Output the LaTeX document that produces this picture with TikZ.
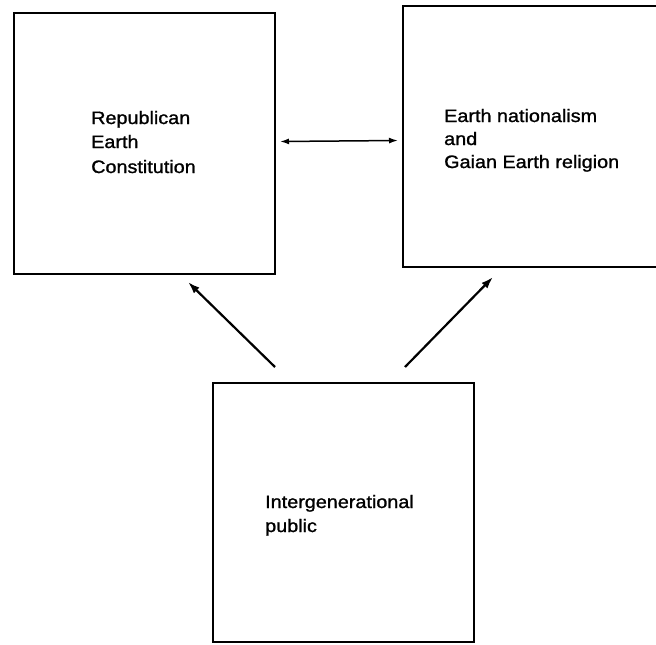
\documentclass[tikz,border=0pt]{standalone}
\usepackage{fontspec}
\setmainfont{Liberation Sans}
\usetikzlibrary{arrows.meta}
\begin{document}
\begin{tikzpicture}[x=1pt,y=-1pt,
  box/.style={draw, line width=2.6pt, inner sep=0pt},
  lbl/.style={anchor=base west, inner sep=0pt,
    font=\fontsize{18}{24}\selectfont\addfontfeature{FakeStretch=1.1,FakeBold=1.2}},
  bigarrow/.style={line width=2.2pt, -{Latex[length=12pt,width=8pt]}},
  thinarrow/.style={line width=1.5pt, {Latex[length=9pt,width=6pt]}-{Latex[length=9pt,width=6pt]}}]
\useasboundingbox (0,0) rectangle (656,645);
% boxes
\node[box, minimum width=261pt, minimum height=261pt] (L) at (144.5,143.5) {};
\node[box, minimum width=260pt, minimum height=261pt] (R) at (533,136.5) {};
\node[box, minimum width=261pt, minimum height=259pt] (B) at (343.5,512.5) {};
% texts
\node[lbl] (l1) at (91,124) {Republican};
\node[lbl] (l2) at (91,148) {Earth};
\node[lbl] (l3) at (91,173) {Constitution};
\node[lbl] (r1) at (444,122) {Earth nationalism};
\node[lbl] (r2) at (444,145) {and};
\node[lbl] (r3) at (444,168) {Gaian Earth religion};
\node[lbl] (b1) at (265,508) {Intergenerational};
\node[lbl] (b2) at (265,532) {public};
% connector ends
\coordinate (dl) at (280,141.5);
\coordinate (dr) at (398,140.5);
\coordinate (as) at (275,367);
\coordinate (ae) at (188,282);
\coordinate (bs) at (405,367);
\coordinate (be) at (493,277);
% connectors
\draw[thinarrow] (dl) -- (dr);
\draw[bigarrow] (as) -- (ae);
\draw[bigarrow] (bs) -- (be);
\end{tikzpicture}
\end{document}
